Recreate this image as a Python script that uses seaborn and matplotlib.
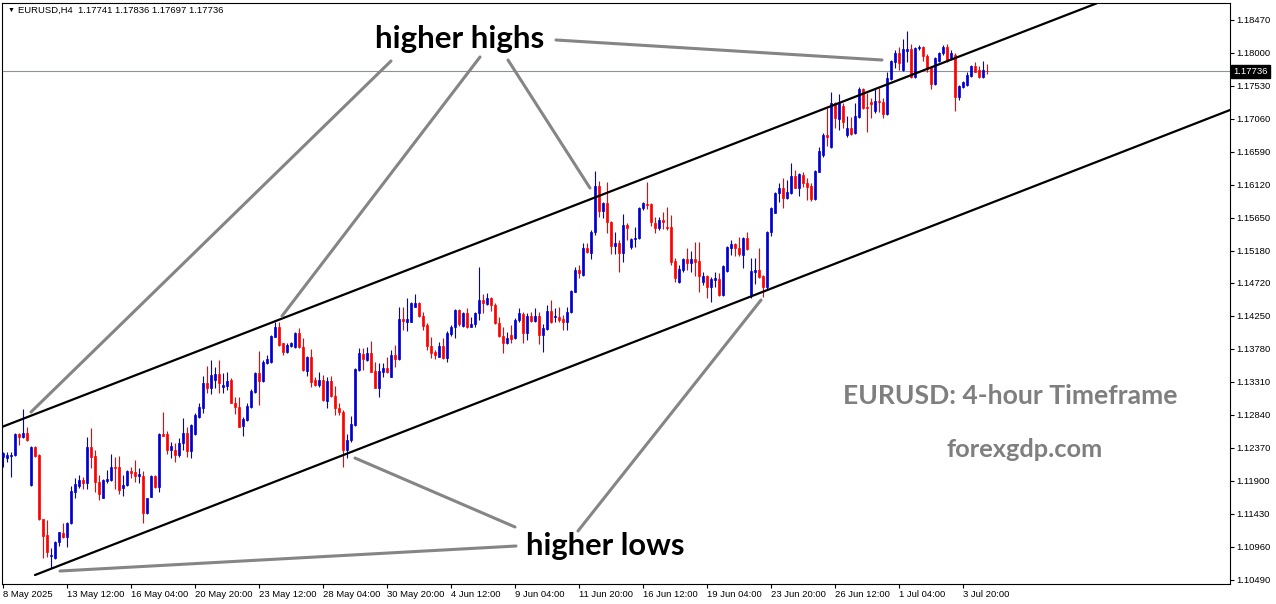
import numpy as np
import pandas as pd
import matplotlib
matplotlib.use("Agg")
import matplotlib.pyplot as plt
import seaborn as sns
from matplotlib.transforms import blended_transform_factory

# ---------------- data (EURUSD H4 candles) ----------------
opens = [
    1.12245, 1.12222, 1.12260, 1.12269, 1.12564, 1.12521, 1.12587, 1.11842, 1.12378, 1.12269,
    1.11357, 1.11129, 1.10825, 1.10806, 1.11034, 1.11162, 1.11105, 1.11295, 1.11747, 1.11832,
    1.11913, 1.11865, 1.12388, 1.12260, 1.11880, 1.11661, 1.11899, 1.11913, 1.12103, 1.12103,
    1.11794, 1.11842, 1.12041, 1.12022, 1.11970, 1.11970, 1.11438, 1.11675, 1.11970, 1.11818,
    1.12564, 1.12564, 1.12340, 1.12340, 1.12269, 1.12435, 1.12578, 1.12331, 1.12568, 1.12815,
    1.12943, 1.13299, 1.13219, 1.13338, 1.13418, 1.13243, 1.13257, 1.13338, 1.13015, 1.12958,
    1.12682, 1.12768, 1.12948, 1.13171, 1.13432, 1.13328, 1.13575, 1.13589, 1.13955, 1.14098,
    1.13860, 1.13741, 1.13822, 1.13803, 1.14012, 1.13813, 1.13471, 1.13670, 1.13338, 1.13266,
    1.13338, 1.13043, 1.13323, 1.13109, 1.12943, 1.12886, 1.12340, 1.12483, 1.12696, 1.13479,
    1.13708, 1.13622, 1.13717, 1.13465, 1.13228, 1.13456, 1.13503, 1.13384, 1.13693, 1.13636,
    1.14202, 1.14168, 1.14168, 1.14382, 1.14439, 1.14249, 1.14121, 1.13822, 1.13741, 1.13670,
    1.13822, 1.13655, 1.13988, 1.14097, 1.14335, 1.14107, 1.14297, 1.14097, 1.14130, 1.14287,
    1.14477, 1.14420, 1.14510, 1.14406, 1.14145, 1.13964, 1.13860, 1.13979, 1.13930, 1.14191,
    1.14277, 1.14001, 1.14253, 1.14177, 1.14248, 1.13978, 1.14063, 1.14324, 1.14229, 1.14229,
    1.14206, 1.14168, 1.14301, 1.14595, 1.14904, 1.14833, 1.15213, 1.15141, 1.15441, 1.16106,
    1.15749, 1.15854, 1.15593, 1.15251, 1.15293, 1.15151, 1.15545, 1.15236, 1.15345, 1.15355,
    1.15783, 1.15844, 1.15844, 1.15578, 1.15498, 1.15616, 1.15521, 1.15511, 1.15031, 1.14727,
    1.14903, 1.15059, 1.14998, 1.15059, 1.15031, 1.14737, 1.14817, 1.14665, 1.14765, 1.14775,
    1.14547, 1.14893, 1.15221, 1.15269, 1.15221, 1.15117, 1.15364, 1.14547, 1.14879, 1.14903,
    1.14822, 1.14665, 1.15439, 1.15720, 1.15995, 1.16067, 1.15924, 1.15995, 1.16247, 1.16076,
    1.16257, 1.16138, 1.16100, 1.15910, 1.16304, 1.16542, 1.16827, 1.16660, 1.17277, 1.17054,
    1.17244, 1.16826, 1.16930, 1.16850, 1.17087, 1.17481, 1.17230, 1.17291, 1.17168, 1.17310,
    1.17291, 1.17120, 1.17624, 1.17871, 1.17989, 1.17752, 1.18023, 1.18051, 1.17657, 1.18061,
    1.18084, 1.17956, 1.17776, 1.17548, 1.17880, 1.17989, 1.18084, 1.17918, 1.17966, 1.17372,
    1.17514, 1.17538, 1.17671, 1.17809, 1.17752, 1.17657, 1.17741,
]
highs = [
    1.12316, 1.12316, 1.12307, 1.12587, 1.12587, 1.12925, 1.12663, 1.12402, 1.12402, 1.12279,
    1.11357, 1.11343, 1.10949, 1.11048, 1.11176, 1.11295, 1.11319, 1.11832, 1.11946, 1.11984,
    1.11960, 1.12530, 1.12659, 1.12340, 1.11984, 1.11927, 1.12055, 1.12279, 1.12245, 1.12255,
    1.11984, 1.12055, 1.12103, 1.12198, 1.12079, 1.12041, 1.11661, 1.11984, 1.11984, 1.12578,
    1.12887, 1.12611, 1.12459, 1.12435, 1.12516, 1.12791, 1.12673, 1.12706, 1.12863, 1.13005,
    1.13395, 1.13537, 1.13623, 1.13528, 1.13623, 1.13442, 1.13456, 1.13361, 1.13090, 1.13090,
    1.12815, 1.13005, 1.13205, 1.13456, 1.13751, 1.13623, 1.13694, 1.13979, 1.14169, 1.14169,
    1.13870, 1.13870, 1.13884, 1.14026, 1.14074, 1.13931, 1.13680, 1.13775, 1.13385, 1.13456,
    1.13409, 1.13385, 1.13399, 1.13252, 1.13005, 1.12910, 1.12568, 1.12824, 1.13503, 1.13788,
    1.13788, 1.13812, 1.13897, 1.13589, 1.13584, 1.13580, 1.13660, 1.13765, 1.13836, 1.14382,
    1.14382, 1.14501, 1.14449, 1.14558, 1.14453, 1.14311, 1.14145, 1.13945, 1.13765, 1.13883,
    1.13931, 1.14040, 1.14121, 1.14344, 1.14344, 1.14311, 1.14358, 1.14240, 1.14311, 1.14952,
    1.14558, 1.14572, 1.14515, 1.14439, 1.14240, 1.14097, 1.14026, 1.14121, 1.14215, 1.14358,
    1.14310, 1.14286, 1.14310, 1.14358, 1.14310, 1.14129, 1.14405, 1.14476, 1.14358, 1.14381,
    1.14263, 1.14381, 1.14619, 1.14951, 1.14975, 1.15284, 1.15284, 1.15474, 1.16315, 1.16172,
    1.15878, 1.16163, 1.15602, 1.15450, 1.15331, 1.15697, 1.15569, 1.15355, 1.15521, 1.15806,
    1.15878, 1.16163, 1.15854, 1.15664, 1.15664, 1.15735, 1.15800, 1.15687, 1.15069, 1.14974,
    1.15079, 1.15221, 1.15174, 1.15297, 1.15297, 1.14879, 1.14832, 1.14808, 1.14870, 1.14855,
    1.14974, 1.15249, 1.15330, 1.15283, 1.15378, 1.15378, 1.15449, 1.15069, 1.15069, 1.15212,
    1.14832, 1.15458, 1.15805, 1.16019, 1.16138, 1.16209, 1.16185, 1.16423, 1.16328, 1.16280,
    1.16294, 1.16219, 1.16138, 1.16328, 1.16660, 1.16850, 1.17207, 1.17443, 1.17301, 1.17405,
    1.17277, 1.17101, 1.17087, 1.17277, 1.17514, 1.17490, 1.17419, 1.17348, 1.17490, 1.17490,
    1.17348, 1.17728, 1.17894, 1.18037, 1.18084, 1.18194, 1.18308, 1.18118, 1.18084, 1.18108,
    1.18098, 1.17975, 1.17799, 1.17942, 1.18013, 1.18108, 1.18118, 1.18037, 1.17989, 1.17538,
    1.17595, 1.17728, 1.17823, 1.17871, 1.17814, 1.17880, 1.17836,
]
lows = [
    1.12103, 1.12174, 1.11960, 1.12260, 1.12412, 1.12507, 1.12473, 1.11832, 1.12245, 1.11348,
    1.10806, 1.10820, 1.10654, 1.10796, 1.10977, 1.11091, 1.10963, 1.11281, 1.11661, 1.11794,
    1.11784, 1.11784, 1.12089, 1.11747, 1.11628, 1.11652, 1.11865, 1.11899, 1.11780, 1.11713,
    1.11690, 1.11832, 1.11946, 1.11880, 1.11865, 1.11295, 1.11423, 1.11666, 1.11803, 1.11747,
    1.12535, 1.12279, 1.12221, 1.12174, 1.12245, 1.12340, 1.12245, 1.12221, 1.12554, 1.12791,
    1.12863, 1.13148, 1.13138, 1.13219, 1.13148, 1.13148, 1.13195, 1.13005, 1.12853, 1.12663,
    1.12539, 1.12753, 1.12943, 1.13157, 1.12981, 1.13314, 1.13561, 1.13575, 1.13945, 1.13827,
    1.13694, 1.13727, 1.13813, 1.13794, 1.13789, 1.13471, 1.13399, 1.13233, 1.13252, 1.13243,
    1.13043, 1.12934, 1.13090, 1.12839, 1.12839, 1.12093, 1.12231, 1.12450, 1.12682, 1.13470,
    1.13479, 1.13613, 1.13446, 1.13218, 1.13099, 1.13375, 1.13441, 1.13375, 1.13518, 1.13622,
    1.14050, 1.14040, 1.14159, 1.14373, 1.14240, 1.14050, 1.13765, 1.13646, 1.13632, 1.13660,
    1.13636, 1.13589, 1.13969, 1.13931, 1.14111, 1.14097, 1.14083, 1.14088, 1.14097, 1.14192,
    1.14297, 1.14406, 1.14325, 1.14135, 1.13955, 1.13717, 1.13845, 1.13869, 1.13921, 1.14168,
    1.13859, 1.13906, 1.14168, 1.14158, 1.13845, 1.13731, 1.14049, 1.14144, 1.14168, 1.14168,
    1.14049, 1.14049, 1.14286, 1.14586, 1.14785, 1.14823, 1.15141, 1.15056, 1.15403, 1.15664,
    1.15640, 1.15426, 1.15127, 1.15127, 1.14880, 1.15013, 1.15331, 1.15203, 1.15236, 1.15345,
    1.15759, 1.15773, 1.15531, 1.15426, 1.15474, 1.15488, 1.15474, 1.14974, 1.14737, 1.14713,
    1.14879, 1.14903, 1.14879, 1.14822, 1.14594, 1.14689, 1.14499, 1.14452, 1.14665, 1.14537,
    1.14537, 1.14879, 1.15117, 1.15107, 1.15107, 1.14936, 1.15188, 1.14499, 1.14699, 1.14784,
    1.14523, 1.14641, 1.15392, 1.15710, 1.15867, 1.15791, 1.15914, 1.15981, 1.16067, 1.15962,
    1.16090, 1.15900, 1.15886, 1.15900, 1.16294, 1.16518, 1.16674, 1.16645, 1.16921, 1.16897,
    1.16921, 1.16802, 1.16826, 1.16840, 1.17073, 1.17196, 1.16873, 1.17063, 1.17134, 1.17158,
    1.17063, 1.17111, 1.17609, 1.17776, 1.17752, 1.17742, 1.17871, 1.17633, 1.17633, 1.18037,
    1.17880, 1.17728, 1.17481, 1.17538, 1.17871, 1.17966, 1.17871, 1.17909, 1.17168, 1.17324,
    1.17500, 1.17529, 1.17657, 1.17719, 1.17633, 1.17643, 1.17697,
]
closes = [
    1.12293, 1.12269, 1.12274, 1.12564, 1.12530, 1.12578, 1.12483, 1.12388, 1.12260, 1.11357,
    1.11120, 1.10892, 1.10853, 1.11034, 1.11167, 1.11105, 1.11305, 1.11761, 1.11851, 1.11913,
    1.11865, 1.12388, 1.12245, 1.11880, 1.11708, 1.11913, 1.11927, 1.12103, 1.12089, 1.11770,
    1.11842, 1.12041, 1.12017, 1.11970, 1.11994, 1.11438, 1.11652, 1.11970, 1.11818, 1.12564,
    1.12544, 1.12340, 1.12397, 1.12269, 1.12435, 1.12578, 1.12331, 1.12696, 1.12839, 1.12948,
    1.13299, 1.13219, 1.13409, 1.13418, 1.13299, 1.13266, 1.13323, 1.13015, 1.12948, 1.12673,
    1.12782, 1.12967, 1.13186, 1.13432, 1.13328, 1.13589, 1.13637, 1.13964, 1.14098, 1.13836,
    1.13741, 1.13836, 1.13870, 1.14012, 1.13803, 1.13480, 1.13670, 1.13314, 1.13266, 1.13338,
    1.13053, 1.13323, 1.13109, 1.12934, 1.12886, 1.12340, 1.12483, 1.12705, 1.13494, 1.13717,
    1.13636, 1.13717, 1.13456, 1.13228, 1.13465, 1.13503, 1.13456, 1.13693, 1.13636, 1.14202,
    1.14178, 1.14202, 1.14439, 1.14439, 1.14249, 1.14107, 1.13822, 1.13727, 1.13693, 1.13822,
    1.13655, 1.14002, 1.14097, 1.14335, 1.14130, 1.14297, 1.14097, 1.14130, 1.14287, 1.14477,
    1.14439, 1.14510, 1.14406, 1.14145, 1.13964, 1.13860, 1.13931, 1.13917, 1.14191, 1.14286,
    1.14001, 1.14253, 1.14177, 1.14248, 1.13978, 1.14082, 1.14324, 1.14158, 1.14248, 1.14191,
    1.14158, 1.14310, 1.14605, 1.14904, 1.14856, 1.15213, 1.15156, 1.15450, 1.16106, 1.15749,
    1.15854, 1.15593, 1.15251, 1.15293, 1.15151, 1.15545, 1.15507, 1.15345, 1.15364, 1.15792,
    1.15854, 1.15830, 1.15593, 1.15498, 1.15616, 1.15583, 1.15498, 1.15022, 1.14794, 1.14917,
    1.15059, 1.14998, 1.15059, 1.15022, 1.14822, 1.14817, 1.14665, 1.14770, 1.14784, 1.14547,
    1.14960, 1.15235, 1.15269, 1.15221, 1.15126, 1.15364, 1.15202, 1.14888, 1.14903, 1.14808,
    1.14665, 1.15449, 1.15791, 1.15995, 1.16067, 1.15924, 1.16010, 1.16247, 1.16076, 1.16266,
    1.16138, 1.16090, 1.15910, 1.16314, 1.16598, 1.16827, 1.16803, 1.17277, 1.17063, 1.17277,
    1.17016, 1.16930, 1.16835, 1.17101, 1.17481, 1.17215, 1.17206, 1.17263, 1.17310, 1.17291,
    1.17120, 1.17633, 1.17880, 1.17989, 1.17847, 1.18051, 1.18051, 1.17657, 1.18070, 1.18084,
    1.17956, 1.17766, 1.17548, 1.17918, 1.17989, 1.18084, 1.17880, 1.17989, 1.17372, 1.17524,
    1.17585, 1.17681, 1.17809, 1.17728, 1.17657, 1.17752, 1.17736,
]

x_tick_bars = [0, 16, 32, 48, 64, 80, 96, 112, 128, 144, 160, 176, 192, 208, 224, 240]
x_tick_labels = ["8 May 2025", "13 May 12:00", "16 May 04:00", "20 May 20:00",
                 "23 May 12:00", "28 May 04:00", "30 May 20:00", "4 Jun 12:00",
                 "9 Jun 04:00", "11 Jun 20:00", "16 Jun 12:00", "19 Jun 04:00",
                 "23 Jun 20:00", "26 Jun 12:00", "1 Jul 04:00", "3 Jul 20:00"]
price_ticks = [1.10490, 1.10960, 1.11430, 1.11900, 1.12370, 1.12840, 1.13310, 1.13780,
               1.14250, 1.14720, 1.15180, 1.15650, 1.16120, 1.16590, 1.17060, 1.17530,
               1.18000, 1.18470]
last_price = 1.17736

# channel trend lines (anchor points: bar, price)
channel_bars = [-0.25, 273.4, 8.0, 306.75]
channel_prices = [1.12670, 1.18702, 1.10561, 1.17183]
channel_names = ["upper", "upper", "lower", "lower"]

# annotation pointer segments (bar, price)
ann_bars = [97, 7, 119.25, 69.75, 126.25, 146.75, 138.25, 219.75,
            128, 88, 143.75, 189.5, 128.25, 14.25]
ann_prices = [1.17881, 1.12882, 1.17938, 1.14249, 1.17895, 1.16072, 1.18180, 1.17895,
              1.11245, 1.12227, 1.11188, 1.14477, 1.10974, 1.10618]
ann_ids = ["hh1", "hh1", "hh2", "hh2", "hh3", "hh3", "hh4", "hh4",
           "hl1", "hl1", "hl2", "hl2", "hl3", "hl3"]

# ---------------- figure ----------------
sns.set_theme(style="white")
plt.rcParams['font.family'] = ['Liberation Sans', 'DejaVu Sans']

W, H = 1276, 604
fig = plt.figure(figsize=(W / 100, H / 100), dpi=100, facecolor="white")
ax = fig.add_axes([2.5 / W, (H - 584) / H, (1230 - 2.5) / W, (584 - 2.5) / H])
ax.set_facecolor("white")

df = pd.DataFrame({"bar": np.arange(len(opens)), "open": opens, "high": highs,
                   "low": lows, "close": closes})
bull = df["close"] >= df["open"]
colors = np.where(bull, "#0000d0", "#ff0000")

# current price line
ax.axhline(last_price, color="#8a939c", lw=0.8, zorder=1)

# wicks and bodies
ax.vlines(df["bar"], df["low"], df["high"], colors=colors, lw=0.8, zorder=2)
body_bottom = np.minimum(df["open"], df["close"])
body_height = np.abs(df["close"] - df["open"])
ax.bar(df["bar"], body_height, bottom=body_bottom, width=0.58, color=colors,
       edgecolor=colors, linewidth=0.5, zorder=3)

# channel lines
ch = pd.DataFrame({"bar": channel_bars, "price": channel_prices, "line": channel_names})
sns.lineplot(data=ch, x="bar", y="price", units="line", estimator=None, sort=False,
             color="black", lw=1.6, ax=ax, legend=False, zorder=4)

# annotation segments
an = pd.DataFrame({"bar": ann_bars, "price": ann_prices, "seg": ann_ids})
sns.lineplot(data=an, x="bar", y="price", units="seg", estimator=None, sort=False,
             color="#858585", lw=2.2, ax=ax, legend=False, zorder=5)

ax.text(114.25, 1.18194, "higher highs", ha="center", va="center", fontsize=22.6,
        fontweight="bold", family=["Lato", "DejaVu Sans"], color="black", zorder=6)
ax.text(150.5, 1.10974, "higher lows", ha="center", va="center", fontsize=22.2,
        fontweight="bold", family=["Lato", "DejaVu Sans"], color="black", zorder=6)
ax.text(251.75, 1.13110, "EURUSD: 4-hour Timeframe", ha="center", va="center",
        fontsize=19.1, fontweight="bold", family=["Lato", "DejaVu Sans"], color="#7f7f7f", zorder=6)
ax.text(255.5, 1.12355, "forexgdp.com", ha="center", va="center",
        fontsize=18.3, fontweight="bold", family=["Lato", "DejaVu Sans"], color="#7f7f7f", zorder=6)

# limits
ax.set_xlim(-0.125, 306.75)
ax.set_ylim(1.10433, 1.18714)
ax.set_xlabel("")
ax.set_ylabel("")

# axes ticks
ax.yaxis.tick_right()
ax.set_yticks(price_ticks)
ax.set_yticklabels([f"{p:.5f}" for p in price_ticks])
ax.set_xticks(x_tick_bars)
ax.set_xticklabels(x_tick_labels, ha="left")
ax.tick_params(axis="y", which="both", right=True, left=False, direction="out",
               length=3, width=0.8, labelsize=6.8, pad=1.5, colors="black")
ax.tick_params(axis="x", which="both", bottom=True, direction="out",
               length=3, width=0.8, labelsize=6.8, pad=1.5, colors="black")
for lbl in ax.get_xticklabels():
    lbl.set_horizontalalignment("left")
ax.grid(False)
for sp in ax.spines.values():
    sp.set_visible(True)
    sp.set_color("black")
    sp.set_linewidth(0.8)

# last price tag on the price scale
trans = blended_transform_factory(ax.transAxes, ax.transData)
ax.text(1.0025, last_price, "1.17736", transform=trans, ha="left", va="center",
        fontsize=6.8, color="white", clip_on=False,
        bbox=dict(boxstyle="square,pad=0.22", fc="black", ec="black"), zorder=10)

# header
fig.text(8 / W, 1 - 10.5 / H, "\u25bc", fontsize=5, ha="left", va="center", color="black")
fig.text(18 / W, 1 - 10.5 / H, "EURUSD,H4  1.17741 1.17836 1.17697 1.17736",
         fontsize=6.8, ha="left", va="center", color="black")

fig.savefig("out.png", dpi=100, facecolor="white")
